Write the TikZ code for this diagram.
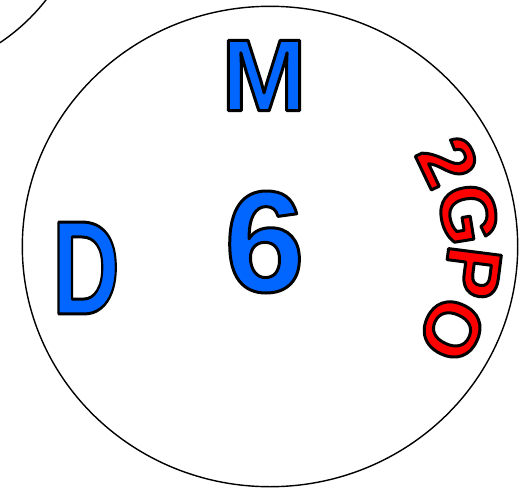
\documentclass[tikz,border=0pt]{standalone}
\usepackage{fontspec}
\setmainfont{Liberation Sans}
\definecolor{xanh}{RGB}{0,102,255}
\definecolor{do}{RGB}{255,0,0}
% Chữ có viền đen
\newcommand{\vien}[1]{\special{pdf:literal direct q 2 Tr 1.7 w 1 j 0 0 0 RG}#1\special{pdf:literal direct Q}}

\begin{document}
\begin{tikzpicture}[x=0.02cm, y=0.02cm,
    chu/.style={inner sep=0pt, outer sep=0pt},
    chuxanh/.style={chu, text=xanh},
    chudo/.style={chu, text=do, font=\fontsize{44}{44}\selectfont\bfseries}]
    \useasboundingbox (0,0) rectangle (524,-487);
    % Đường tròn lớn
    \coordinate (O) at (270,-246.5);
    \draw[line width=0.8pt] (O) ellipse [x radius=247.7, y radius=240.2];
    % Cung tròn ở góc trên trái
    \begin{scope}
        \clip (0,0) rectangle (524,-487);
        \draw[line width=0.8pt] (-110,122) circle [radius=198];
    \end{scope}
    % Các chữ màu xanh
    \node[chuxanh, font=\fontsize{58}{58}\selectfont\bfseries] (M) at (264,-75.5) {\vien{M}};
    \node[chuxanh, font=\fontsize{82}{82}\selectfont\bfseries] (sau) at (264.5,-242) {\vien{6}};
    \node[chuxanh, xscale=0.7, font=\fontsize{76}{76}\selectfont\bfseries] (D) at (86,-268) {\vien{D}};
    % Chữ đỏ theo vòng tròn
    \foreach \c/\g/\r in {2/25.5/197, G/9.2/201, P/-7.3/204, O/-24.5/200}
        \node[chudo, rotate=\g-90] (c\c) at ([shift={(\g:\r)}]O) {\vien{\c}};
\end{tikzpicture}
\end{document}
